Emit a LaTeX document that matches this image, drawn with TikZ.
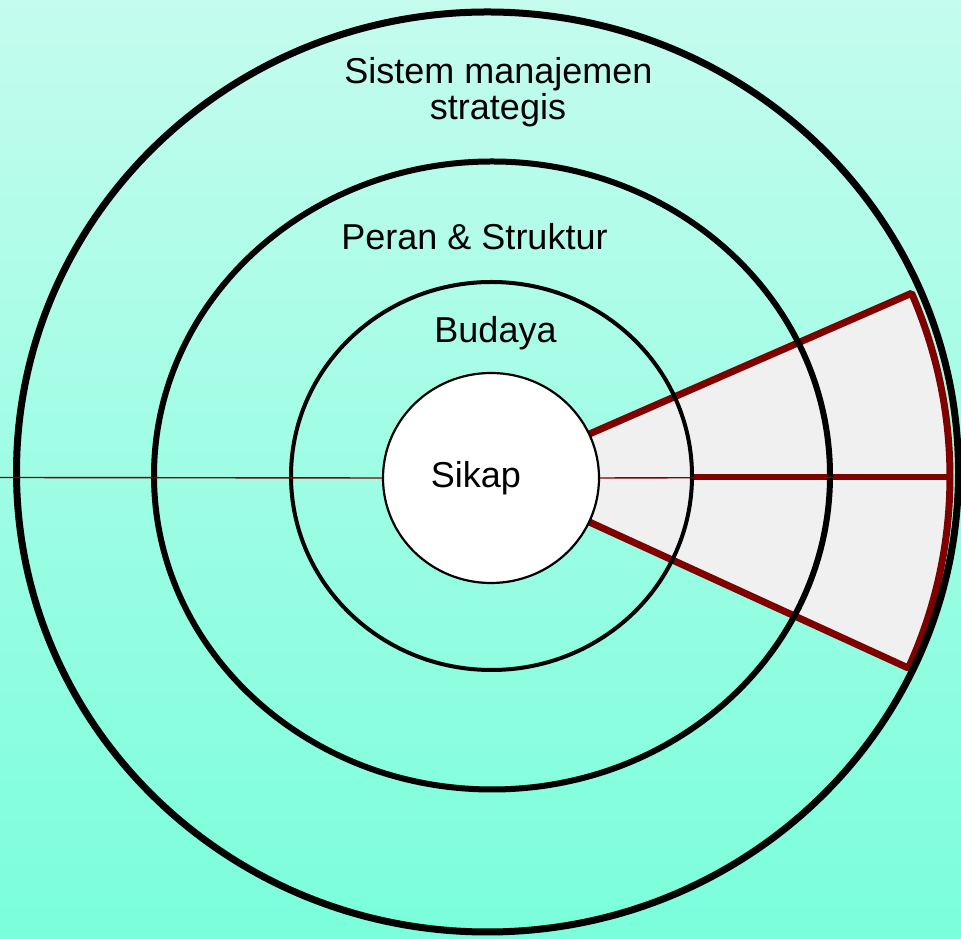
\documentclass[tikz,border=0pt]{standalone}
\usepackage{fontspec}
\setmainfont{Liberation Sans}
\usetikzlibrary{calc,shapes.geometric}
\definecolor{bgtop}{HTML}{C4FCEE}
\definecolor{bgbot}{HTML}{7AFEDB}
\definecolor{maroon}{HTML}{800000}
\definecolor{wedgegray}{HTML}{F0F0F0}
\tikzset{
  ring/.style={draw=black},
  wedgeshape/.style={fill=wedgegray, draw=maroon, line width=7pt, line join=bevel},
  label/.style={font=\fontsize{36}{40}\selectfont, anchor=base, inner sep=0pt},
  redthin/.style={draw=maroon, line width=1.4pt},
}
\begin{document}
\begin{tikzpicture}[x=1pt,y=1pt]
\useasboundingbox (0,0) rectangle (961,939);
\shade[top color=bgtop, bottom color=bgbot] (0,0) rectangle (961,939);
% wedge
\coordinate (wc) at (491,462);
\filldraw[wedgeshape] ($(wc)+(-24.6:104)$) -- ($(wc)+(-24.6:459)$)
   arc[start angle=-24.6, end angle=23.6, radius=459pt]
   -- ($(wc)+(23.6:104)$) -- cycle;
\coordinate (arcend) at ($(wc)+(0:459)$);
\coordinate (ringthree) at (692,462);
\draw[draw=maroon, line width=5.5pt] (ringthree) -- (arcend);
% rings
\draw[ring, line width=7pt] (487.5,467) ellipse [x radius=471pt, y radius=460pt];
\draw[ring, line width=6pt] (492,463.5) ellipse [x radius=338pt, y radius=314pt];
\draw[ring, line width=4pt] (491.5,463) ellipse [x radius=200.5pt, y radius=194pt];
% thin red line
\coordinate (leftend) at (0,461.5);
\node[ellipse, draw=black, fill=white, line width=2.2pt, minimum width=216pt, minimum height=210pt, inner sep=0pt] (sikapc) at (491,461) {};
\draw[redthin] (leftend) -- (sikapc.west);
\draw[redthin] (sikapc.east) -- (arcend);
% texts
\node[label] (t1) at (498.5,855) {Sistem manajemen};
\node[label] (t2) at (498,819) {strategis};
\node[label] (t3) at (474.5,689) {Peran \& Struktur};
\node[label] (t4) at (495.5,596) {Budaya};
\node[label] (t5) at (476,451) {Sikap};
\end{tikzpicture}
\end{document}
